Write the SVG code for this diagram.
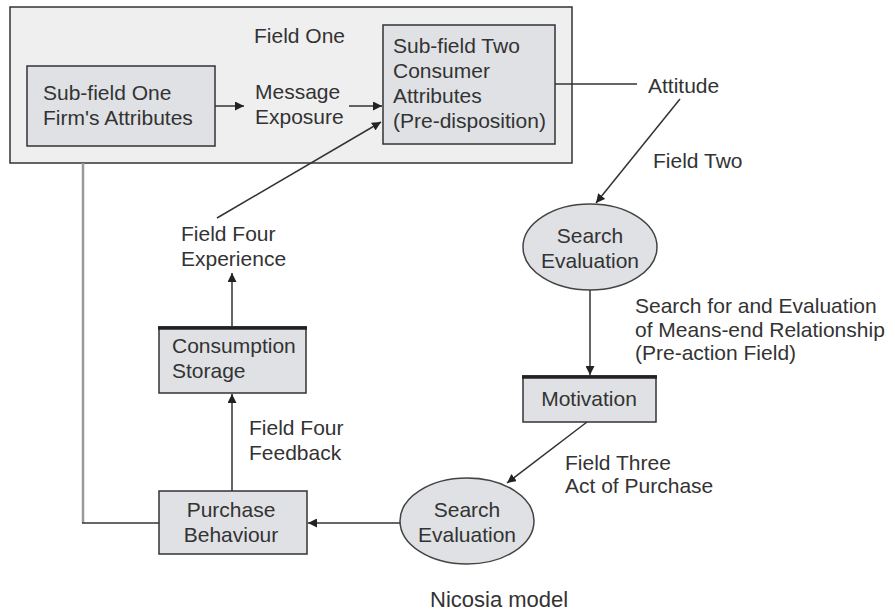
<svg xmlns="http://www.w3.org/2000/svg" width="895" height="611" viewBox="0 0 895 611">
<style>
  text { font-family: "Liberation Sans", Arial, sans-serif; font-size: 21px; fill: #333; }
  .box { fill: #dfe1e4; stroke: #333; stroke-width: 1.5; }
  .ell { fill: #dfe1e4; stroke: #444; stroke-width: 1.5; }
  .ln { stroke: #333; stroke-width: 1.5; fill: none; }
  .gray { stroke: #999; stroke-width: 2.5; fill: none; }
  .thick { stroke: #222; stroke-width: 3.5; }
  .mid { text-anchor: middle; }
</style>
<defs>
  <marker id="arr" viewBox="0 0 10 10" refX="10" refY="5" markerWidth="9" markerHeight="9" orient="auto" markerUnits="userSpaceOnUse">
    <path d="M0,0 L10,5 L0,10 z" fill="#222"/>
  </marker>
</defs>
<rect width="895" height="611" fill="#ffffff"/>

<g id="field-one">
  <rect x="10" y="7" width="562" height="156" fill="#efeff0" stroke="#333" stroke-width="1.5"/>
  <text x="254" y="43">Field One</text>
</g>

<g id="subfield-one">
  <rect class="box" x="27" y="66" width="188" height="80"/>
  <text x="43" y="100">Sub-field One</text>
  <text x="43" y="125">Firm's Attributes</text>
</g>

<g id="message-exposure">
  <text x="255" y="99">Message</text>
  <text x="255" y="124">Exposure</text>
</g>

<g id="subfield-two">
  <rect class="box" x="383" y="25" width="172" height="119"/>
  <text x="393" y="53">Sub-field Two</text>
  <text x="393" y="78">Consumer</text>
  <text x="393" y="103">Attributes</text>
  <text x="393" y="128">(Pre-disposition)</text>
</g>

<g id="attitude">
  <text x="648" y="93">Attitude</text>
</g>

<g id="field-two">
  <text x="653" y="168">Field Two</text>
</g>

<g id="search-evaluation-1">
  <ellipse class="ell" cx="590" cy="247" rx="67" ry="43"/>
  <text class="mid" x="590" y="243">Search</text>
  <text class="mid" x="590" y="268">Evaluation</text>
</g>

<g id="means-end">
  <text x="635" y="313">Search for and Evaluation</text>
  <text x="635" y="337">of Means-end Relationship</text>
  <text x="635" y="360">(Pre-action Field)</text>
</g>

<g id="motivation">
  <rect class="box" x="523" y="376" width="133" height="46"/>
  <line class="thick" x1="522" y1="377" x2="657" y2="377"/>
  <text class="mid" x="589" y="406">Motivation</text>
</g>

<g id="field-three">
  <text x="565" y="470">Field Three</text>
  <text x="565" y="493">Act of Purchase</text>
</g>

<g id="search-evaluation-2">
  <ellipse class="ell" cx="467" cy="521" rx="67" ry="43"/>
  <text class="mid" x="467" y="517">Search</text>
  <text class="mid" x="467" y="542">Evaluation</text>
</g>

<g id="purchase-behaviour">
  <rect class="box" x="159" y="491" width="148" height="63"/>
  <text class="mid" x="231" y="517">Purchase</text>
  <text class="mid" x="231" y="542">Behaviour</text>
</g>

<g id="field-four-feedback">
  <text x="249" y="435">Field Four</text>
  <text x="249" y="460">Feedback</text>
</g>

<g id="consumption-storage">
  <rect class="box" x="159" y="327" width="147" height="66"/>
  <line class="thick" x1="158" y1="328" x2="307" y2="328"/>
  <text x="172" y="353">Consumption</text>
  <text x="172" y="378">Storage</text>
</g>

<g id="field-four-experience">
  <text x="181" y="241">Field Four</text>
  <text x="181" y="266">Experience</text>
</g>

<g id="caption">
  <text x="430" y="607" style="font-size:22px">Nicosia model</text>
</g>

<g id="connectors">
  <line class="ln" x1="215" y1="106" x2="244" y2="106" marker-end="url(#arr)"/>
  <line class="ln" x1="349" y1="106" x2="382" y2="106" marker-end="url(#arr)"/>
  <line class="ln" x1="555" y1="84" x2="637" y2="84"/>
  <line class="ln" x1="680" y1="99" x2="596" y2="203" marker-end="url(#arr)"/>
  <line class="ln" x1="590" y1="290" x2="590" y2="375" marker-end="url(#arr)"/>
  <line class="ln" x1="587" y1="422" x2="507" y2="483" marker-end="url(#arr)"/>
  <line class="ln" x1="400" y1="523" x2="308" y2="523" marker-end="url(#arr)"/>
  <line class="ln" x1="232" y1="491" x2="232" y2="394" marker-end="url(#arr)"/>
  <line class="ln" x1="232" y1="327" x2="232" y2="273" marker-end="url(#arr)"/>
  <line class="ln" x1="217" y1="218" x2="381" y2="122" marker-end="url(#arr)"/>
  <polyline class="gray" points="83,163 83,523"/>
  <line class="ln" x1="82" y1="523" x2="159" y2="523"/>
</g>
</svg>
